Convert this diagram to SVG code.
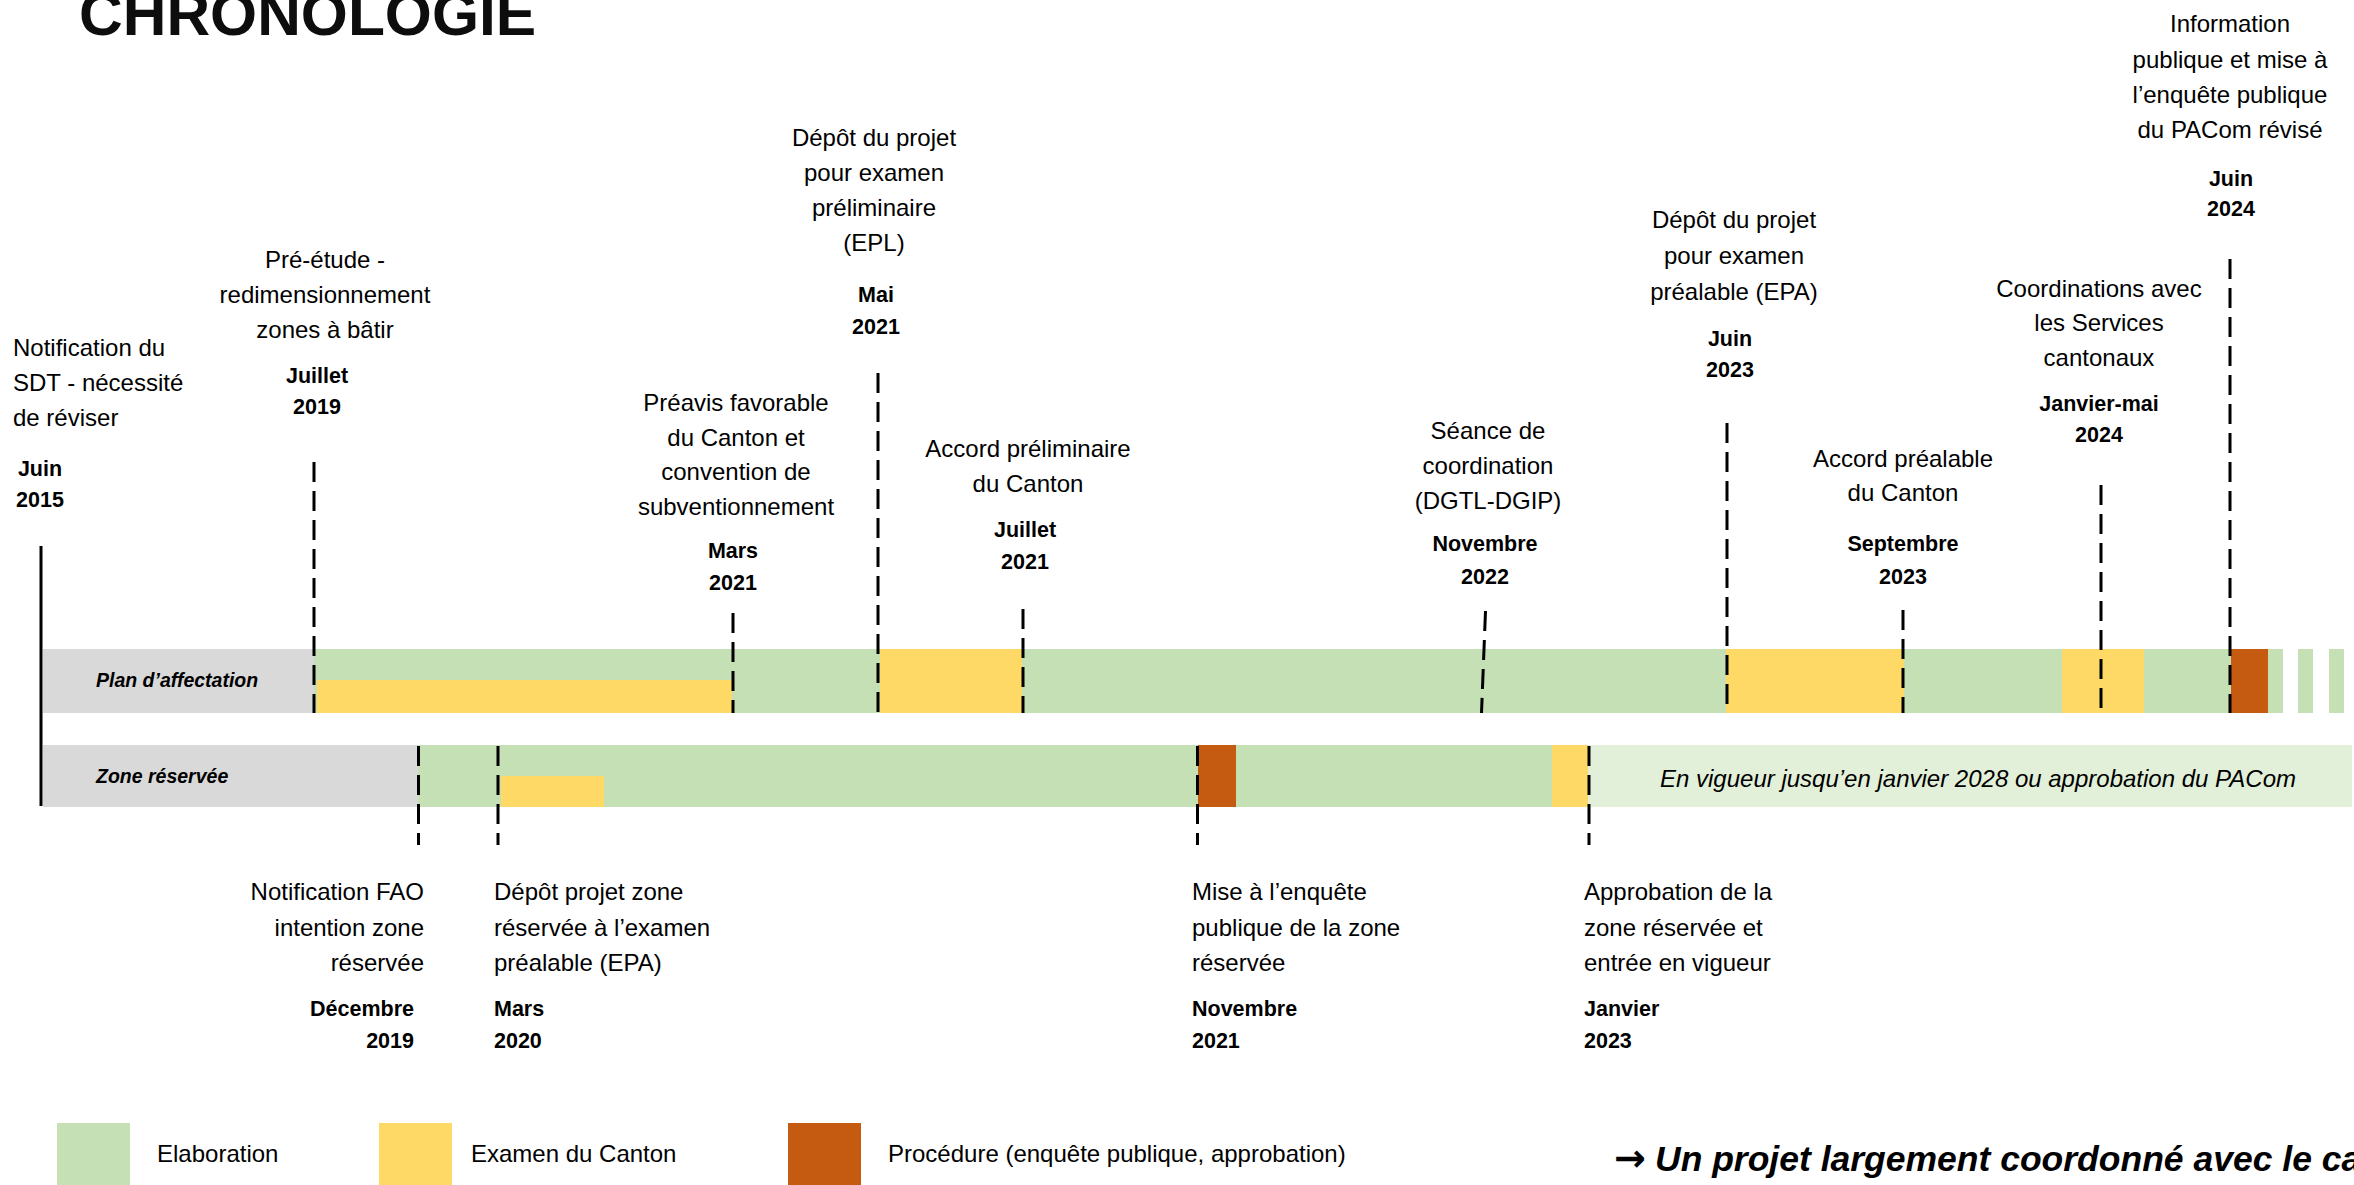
<svg xmlns="http://www.w3.org/2000/svg" width="2354" height="1185" viewBox="0 0 2354 1185">
<style>
.t{font-family:"Liberation Sans",Arial,sans-serif;font-size:24px;fill:#000}
.d{font-family:"Liberation Sans",Arial,sans-serif;font-size:21.5px;font-weight:bold;fill:#000}
.c{text-anchor:middle}
.r{text-anchor:end}
.lab{font-family:"Liberation Sans",Arial,sans-serif;font-size:19.5px;font-weight:bold;font-style:italic;fill:#000}
.dash{stroke:#000;stroke-width:3;stroke-dasharray:20 9;fill:none}
.g{fill:#C5E0B4}.y{fill:#FFD966}.o{fill:#C55A11}.gr{fill:#D9D9D9}.lg{fill:#E2F0D9}
</style>
<rect width="2354" height="1185" fill="#fff"/>
<text x="79" y="35" font-family="'Liberation Sans',Arial,sans-serif" font-size="60.5" font-weight="bold" fill="#0d0d0d">CHRONOLOGIE</text>

<g id="bars">
<rect class="gr" x="43" y="649" width="271" height="64"/>
<rect class="g" x="314" y="649" width="1969" height="64"/>
<rect class="y" x="317" y="680" width="415" height="33"/>
<rect class="y" x="880" y="649" width="142" height="64"/>
<rect class="y" x="1726" y="649" width="178" height="64"/>
<rect class="y" x="2062" y="649" width="82" height="64"/>
<rect class="o" x="2231" y="649" width="37" height="64"/>
<rect class="g" x="2298" y="649" width="15" height="64"/>
<rect class="g" x="2329" y="649" width="15" height="64"/>
<rect class="gr" x="43" y="745" width="375" height="62"/>
<rect class="g" x="418" y="745" width="1134" height="62"/>
<rect class="y" x="501" y="776" width="103" height="31"/>
<rect class="o" x="1198" y="745" width="38" height="62"/>
<rect class="y" x="1552" y="745" width="36" height="62"/>
<rect class="lg" x="1588" y="745" width="764" height="62"/>
<text class="lab" x="96" y="687">Plan d’affectation</text>
<text class="lab" x="96" y="783">Zone réservée</text>
<text x="1660" y="787" font-family="'Liberation Sans',Arial,sans-serif" font-size="24" font-style="italic" fill="#000">En vigueur jusqu’en janvier 2028 ou approbation du PACom</text>
</g>

<g id="connectors">
<line x1="41" y1="546" x2="41" y2="806" stroke="#000" stroke-width="3"/>
<line class="dash" x1="314" y1="462" x2="314" y2="713"/>
<line class="dash" x1="733" y1="613" x2="733" y2="713"/>
<line class="dash" x1="878" y1="373" x2="878" y2="713"/>
<line class="dash" x1="1023" y1="609" x2="1023" y2="713"/>
<line class="dash" x1="1485.5" y1="611" x2="1481.5" y2="713"/>
<line class="dash" x1="1727" y1="423" x2="1727" y2="713"/>
<line class="dash" x1="1903" y1="610" x2="1903" y2="713"/>
<line class="dash" x1="2101" y1="485" x2="2101" y2="713"/>
<line class="dash" x1="2230" y1="259" x2="2230" y2="713"/>
<line class="dash" x1="418.5" y1="746" x2="418.5" y2="845"/>
<line class="dash" x1="498" y1="746" x2="498" y2="845"/>
<line class="dash" x1="1197.5" y1="746" x2="1197.5" y2="845"/>
<line class="dash" x1="1589" y1="746" x2="1589" y2="845"/>
</g>

<g id="e-2015-06">
<text class="t" x="13" y="356">Notification du</text>
<text class="t" x="13" y="391">SDT - nécessité</text>
<text class="t" x="13" y="426">de réviser</text>
<text class="d c" x="40" y="476">Juin</text>
<text class="d c" x="40" y="507">2015</text>
</g>
<g id="e-2019-07">
<text class="t c" x="325" y="268">Pré-étude -</text>
<text class="t c" x="325" y="303">redimensionnement</text>
<text class="t c" x="325" y="338">zones à bâtir</text>
<text class="d c" x="317" y="383">Juillet</text>
<text class="d c" x="317" y="414">2019</text>
</g>
<g id="e-2021-03">
<text class="t c" x="736" y="411">Préavis favorable</text>
<text class="t c" x="736" y="446">du Canton et</text>
<text class="t c" x="736" y="480">convention de</text>
<text class="t c" x="736" y="515">subventionnement</text>
<text class="d c" x="733" y="558">Mars</text>
<text class="d c" x="733" y="590">2021</text>
</g>
<g id="e-2021-05">
<text class="t c" x="874" y="146">Dépôt du projet</text>
<text class="t c" x="874" y="181">pour examen</text>
<text class="t c" x="874" y="216">préliminaire</text>
<text class="t c" x="874" y="251">(EPL)</text>
<text class="d c" x="876" y="302">Mai</text>
<text class="d c" x="876" y="334">2021</text>
</g>
<g id="e-2021-07">
<text class="t c" x="1028" y="457">Accord préliminaire</text>
<text class="t c" x="1028" y="492">du Canton</text>
<text class="d c" x="1025" y="537">Juillet</text>
<text class="d c" x="1025" y="569">2021</text>
</g>
<g id="e-2022-11">
<text class="t c" x="1488" y="439">Séance de</text>
<text class="t c" x="1488" y="474">coordination</text>
<text class="t c" x="1488" y="509">(DGTL-DGIP)</text>
<text class="d c" x="1485" y="551">Novembre</text>
<text class="d c" x="1485" y="584">2022</text>
</g>
<g id="e-2023-06">
<text class="t c" x="1734" y="228">Dépôt du projet</text>
<text class="t c" x="1734" y="264">pour examen</text>
<text class="t c" x="1734" y="300">préalable (EPA)</text>
<text class="d c" x="1730" y="346">Juin</text>
<text class="d c" x="1730" y="377">2023</text>
</g>
<g id="e-2023-09">
<text class="t c" x="1903" y="467">Accord préalable</text>
<text class="t c" x="1903" y="501">du Canton</text>
<text class="d c" x="1903" y="551">Septembre</text>
<text class="d c" x="1903" y="584">2023</text>
</g>
<g id="e-2024-01">
<text class="t c" x="2099" y="297">Coordinations avec</text>
<text class="t c" x="2099" y="331">les Services</text>
<text class="t c" x="2099" y="366">cantonaux</text>
<text class="d c" x="2099" y="411">Janvier-mai</text>
<text class="d c" x="2099" y="442">2024</text>
</g>
<g id="e-2024-06">
<text class="t c" x="2230" y="32">Information</text>
<text class="t c" x="2230" y="68">publique et mise à</text>
<text class="t c" x="2230" y="103">l’enquête publique</text>
<text class="t c" x="2230" y="138">du PACom révisé</text>
<text class="d c" x="2231" y="186">Juin</text>
<text class="d c" x="2231" y="216">2024</text>
</g>
<g id="z-2019-12">
<text class="t r" x="424" y="900">Notification FAO</text>
<text class="t r" x="424" y="936">intention zone</text>
<text class="t r" x="424" y="971">réservée</text>
<text class="d r" x="414" y="1016">Décembre</text>
<text class="d r" x="414" y="1048">2019</text>
</g>
<g id="z-2020-03">
<text class="t" x="494" y="900">Dépôt projet zone</text>
<text class="t" x="494" y="936">réservée à l’examen</text>
<text class="t" x="494" y="971">préalable (EPA)</text>
<text class="d" x="494" y="1016">Mars</text>
<text class="d" x="494" y="1048">2020</text>
</g>
<g id="z-2021-11">
<text class="t" x="1192" y="900">Mise à l’enquête</text>
<text class="t" x="1192" y="936">publique de la zone</text>
<text class="t" x="1192" y="971">réservée</text>
<text class="d" x="1192" y="1016">Novembre</text>
<text class="d" x="1192" y="1048">2021</text>
</g>
<g id="z-2023-01">
<text class="t" x="1584" y="900">Approbation de la</text>
<text class="t" x="1584" y="936">zone réservée et</text>
<text class="t" x="1584" y="971">entrée en vigueur</text>
<text class="d" x="1584" y="1016">Janvier</text>
<text class="d" x="1584" y="1048">2023</text>
</g>

<g id="legend">
<rect class="g" x="57" y="1123" width="73" height="62"/>
<text class="t" x="157" y="1162">Elaboration</text>
<rect class="y" x="379" y="1123" width="73" height="62"/>
<text class="t" x="471" y="1162">Examen du Canton</text>
<rect class="o" x="788" y="1123" width="73" height="62"/>
<text class="t" x="888" y="1162">Procédure (enquête publique, approbation)</text>
</g>
<g id="conclusion">
<text y="1171" font-family="'Liberation Sans',Arial,sans-serif" font-size="35.5" font-weight="bold" font-style="italic" fill="#000"><tspan x="1614" font-family="'DejaVu Sans',sans-serif" font-style="normal" font-size="38">→</tspan><tspan x="1655">Un projet largement coordonné avec le ca</tspan></text>
</g>
</svg>
